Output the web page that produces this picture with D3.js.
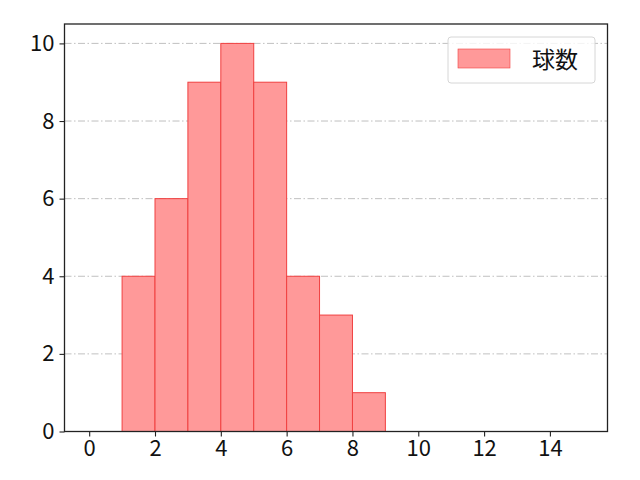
<!doctype html>
<html>
  <head>
    <meta charset="utf-8" />
    <title>球数</title>
    <style>
      body { margin: 0; background: #fff; }
      svg { display: block; }
      text { font-family: "Noto Sans CJK JP", "DejaVu Sans", sans-serif; }
    </style>
  </head>
  <body>
    <svg id="chart" width="640" height="480"></svg>
    <script src="https://d3js.org/d3.v7.min.js"></script>
    <script>
      // histogram bins (left edge, right edge) and counts
      const binStarts = [1, 2, 3, 4, 5, 6, 7, 8];
      const binEnds = [2, 3, 4, 5, 6, 7, 8, 9];
      const counts = [4, 6, 9, 10, 9, 4, 3, 1];
      const xTicks = [0, 2, 4, 6, 8, 10, 12, 14];
      const yTicks = [0, 2, 4, 6, 8, 10];
      const seriesName = "球数";

      const svg = d3.select("#chart");
      const plotL = 64.5, plotR = 607.5, plotT = 24, plotB = 431.5;

      const x = d3.scaleLinear().domain([-0.75, 15.75]).range([plotL, plotR]);
      const y = d3.scaleLinear().domain([0, 10.5]).range([plotB, plotT]);

      // grid lines
      svg.append("g")
        .selectAll("line")
        .data(yTicks.slice(1))
        .enter()
        .append("line")
        .attr("x1", plotL)
        .attr("x2", plotR)
        .attr("y1", (d) => y(d))
        .attr("y2", (d) => y(d))
        .attr("stroke", "#b0b0b0")
        .attr("stroke-width", 0.8)
        .attr("stroke-dasharray", "7,2.5,1.5,2.5");

      // bars
      const bins = counts.map((c, i) => ({ x0: binStarts[i], x1: binEnds[i], n: c }));
      svg.append("g")
        .selectAll("rect")
        .data(bins)
        .enter()
        .append("rect")
        .attr("x", (d) => x(d.x0))
        .attr("width", (d) => x(d.x1) - x(d.x0))
        .attr("y", (d) => y(d.n))
        .attr("height", (d) => y(0) - y(d.n))
        .attr("fill", "#ff9999")
        .attr("stroke", "#f04040")
        .attr("stroke-width", 1);

      // axes
      const xAxis = d3.axisBottom(x).tickValues(xTicks).tickSize(5).tickPadding(4);
      const yAxis = d3.axisLeft(y).tickValues(yTicks).tickSize(5).tickPadding(5);

      const gx = svg.append("g").attr("transform", `translate(0,${plotB})`).call(xAxis);
      const gy = svg.append("g").attr("transform", `translate(${plotL},0)`).call(yAxis);
      [gx, gy].forEach((g) => {
        g.select(".domain").remove();
        g.selectAll(".tick line").attr("stroke", "#222").attr("stroke-width", 1.1);
        g.selectAll(".tick text").attr("fill", "#111").style("font-size", "22px");
      });

      // frame
      svg.append("rect")
        .attr("x", plotL)
        .attr("y", plotT)
        .attr("width", plotR - plotL)
        .attr("height", plotB - plotT)
        .attr("fill", "none")
        .attr("stroke", "#222")
        .attr("stroke-width", 1.3);

      // legend
      const lg = svg.append("g");
      lg.append("rect")
        .attr("x", 448)
        .attr("y", 37)
        .attr("width", 147)
        .attr("height", 46)
        .attr("rx", 3)
        .attr("fill", "#fff")
        .attr("fill-opacity", 0.8)
        .attr("stroke", "#d6d6d6");
      lg.append("rect")
        .attr("x", 458)
        .attr("y", 49)
        .attr("width", 52)
        .attr("height", 19)
        .attr("fill", "#ff9999")
        .attr("stroke", "#f04040")
        .attr("stroke-width", 0.6);
      lg.append("text")
        .attr("x", 532)
        .attr("y", 68)
        .attr("fill", "#111")
        .style("font-size", "23px")
        .text(seriesName);
    </script>
  </body>
</html>
